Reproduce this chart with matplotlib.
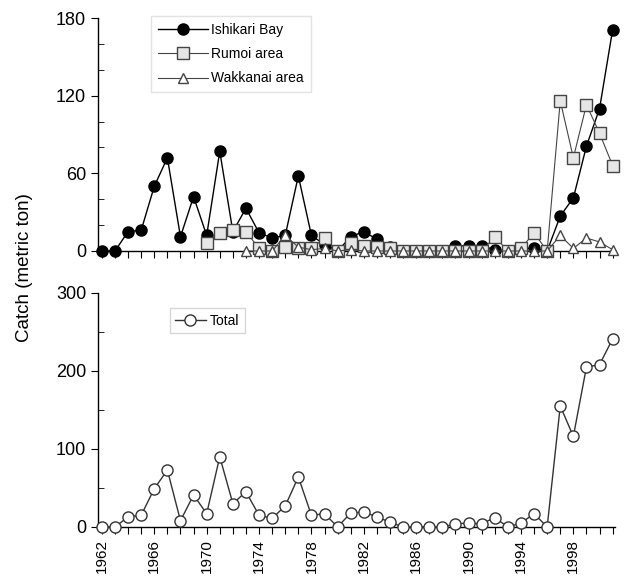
import numpy as np
import matplotlib
matplotlib.use('Agg')
import matplotlib.pyplot as plt
from matplotlib.ticker import MultipleLocator

plt.rcParams['font.family'] = ['Liberation Sans', 'DejaVu Sans']

years = list(range(1962, 2002))

# catch by area (metric ton); None = no record
ishikari = [0, 0, 15, 16, 50, 72, 11, 42, 12, 77,
            15, 33, 14, 10, 12, 58, 12, 5, 0, 11,
            15, 9, 3, 0, 0, 0, 0, 4, 4, 4,
            1, 0, 2, 2, 0, 27, 41, 81, 110, 171]
rumoi = [None] * 8 + [6, 14,
         16, 15, 2, 0, 3, 2, 2, 10, 0, 6,
         4, 3, 2, 0, 0, 0, 0, 0, 0, 0,
         11, 0, 2, 14, 0, 116, 72, 113, 91, 66]
wakkanai = [None] * 11 + [0,
            0, 0, 12, 3, 1, 2, 0, 1,
            0, 0, 0, 0, 0, 0, 0, 0, 0, 0,
            0, 0, 0, 0, 0, 12, 2, 10, 7, 1]
total = [0, 0, 13, 15, 49, 73, 8, 41, 17, 90,
         30, 45, 15, 11, 27, 64, 15, 17, 0, 18,
         19, 13, 6, 0, 0, 0, 0, 4, 5, 4,
         12, 0, 5, 17, 0, 155, 116, 205, 208, 241]

label_years = list(range(1962, 2002, 4))


def to_arr(v):
    return np.array([np.nan if x is None else x for x in v], dtype=float)


def style_axis(ax, ymax, major, minor):
    ax.set_xlim(1961.7, 2001.2)
    ax.set_ylim(0, ymax)
    for s in ['top', 'right']:
        ax.spines[s].set_visible(False)
    ax.spines['left'].set_linewidth(1.0)
    ax.spines['bottom'].set_linewidth(1.0)
    ax.yaxis.set_major_locator(MultipleLocator(major))
    ax.yaxis.set_minor_locator(MultipleLocator(minor))
    ax.xaxis.set_major_locator(MultipleLocator(1))
    ax.tick_params(axis='y', which='major', direction='out', length=5, labelsize=13)
    ax.tick_params(axis='y', which='minor', direction='in', length=4)
    ax.tick_params(axis='x', which='major', direction='out', length=5)


fig = plt.figure(figsize=(6.24, 5.81), dpi=100)
ax1 = fig.add_axes([0.157, 0.568, 0.829, 0.401])
ax2 = fig.add_axes([0.157, 0.093, 0.829, 0.403])

ax1.plot(years, to_arr(ishikari), '-o', color='black', lw=1.0, ms=8,
         mfc='black', mec='black', label='Ishikari Bay', clip_on=False, zorder=3)
ax1.plot(years, to_arr(rumoi), '-s', color='#444444', lw=0.8, ms=8.5,
         mfc='#e6e6e6', mec='#444444', label='Rumoi area', clip_on=False, zorder=4)
ax1.plot(years, to_arr(wakkanai), '-^', color='#444444', lw=0.8, ms=7.5,
         mfc='white', mec='#444444', label='Wakkanai area', clip_on=False, zorder=5)
style_axis(ax1, 180, 60, 20)
ax1.set_xticklabels([])
ax1.legend(loc='upper left', bbox_to_anchor=(0.09, 1.04), fontsize=10,
           frameon=True, fancybox=False, edgecolor='#dddddd',
           handlelength=3.6, handletextpad=0.2, labelspacing=0.75,
           borderpad=0.5)

ax2.plot(years, total, '-o', color='#333333', lw=1.0, ms=8,
         mfc='white', mec='#333333', label='Total', clip_on=False, zorder=3)
style_axis(ax2, 300, 100, 50)
ax2.set_xticks(years)
ax2.set_xticklabels([str(y) if y in label_years else '' for y in years],
                    rotation=90, fontsize=11)
ax2.legend(loc='upper left', bbox_to_anchor=(0.125, 0.965), fontsize=10,
           frameon=True, fancybox=False, edgecolor='#cccccc',
           handlelength=2.2, handletextpad=0.3, borderpad=0.4)

fig.text(0.04, 0.54, 'Catch (metric ton)', rotation=90, fontsize=13.5,
         ha='center', va='center')

fig.savefig('out.png', dpi=100)
